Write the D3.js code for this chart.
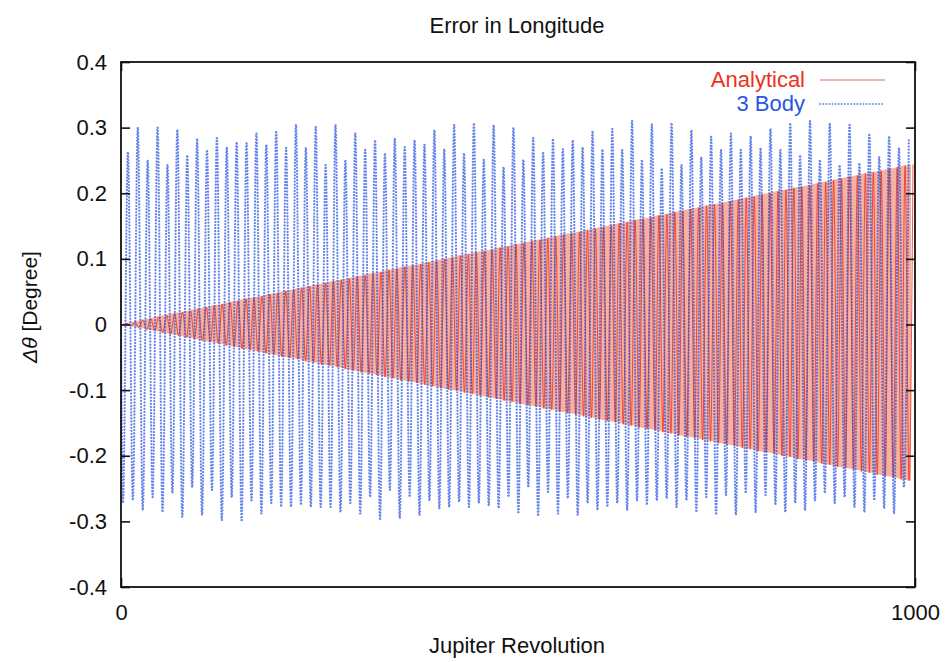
<!DOCTYPE html>
<html>
<head>
<meta charset="utf-8">
<script src="https://cdn.jsdelivr.net/npm/d3@7"></script>
<style>
  body { margin: 0; background: #fff; }
  text { font-family: "Liberation Sans", Arial, Helvetica, sans-serif; }
</style>
</head>
<body>
<svg id="chart" width="947" height="662"></svg>
<script>
// Longitude error over 1000 Jupiter revolutions
const xTicks = [0, 1000];
const yTicks = [-0.4, -0.3, -0.2, -0.1, 0, 0.1, 0.2, 0.3, 0.4];
const seriesNames = ["Analytical", "3 Body"];

// 3-body integration: one maximum and one minimum per oscillation cycle
const bodyPeriod = 12.45; // revolutions per cycle
const bodyHigh = [
  0.263,0.300,0.250,0.300,0.243,0.297,0.258,0.283,0.266,0.284,
  0.270,0.278,0.276,0.291,0.274,0.295,0.269,0.304,0.269,0.301,
  0.243,0.304,0.251,0.291,0.266,0.281,0.261,0.283,0.270,0.281,
  0.274,0.296,0.267,0.304,0.261,0.307,0.251,0.304,0.240,0.300,
  0.251,0.284,0.263,0.283,0.267,0.281,0.270,0.295,0.267,0.298,
  0.266,0.310,0.251,0.305,0.238,0.307,0.243,0.296,0.255,0.286,
  0.266,0.291,0.266,0.287,0.269,0.298,0.266,0.307,0.258,0.310,
  0.251,0.307,0.243,0.304,0.246,0.291,0.255,0.287,0.269,0.284
];
const bodyLow = [
  -0.272,-0.268,-0.283,-0.263,-0.286,-0.257,-0.293,-0.248,-0.290,-0.252,
  -0.298,-0.263,-0.298,-0.268,-0.288,-0.272,-0.278,-0.278,-0.275,-0.278,
  -0.278,-0.278,-0.286,-0.272,-0.288,-0.263,-0.298,-0.252,-0.295,-0.263,
  -0.290,-0.268,-0.280,-0.278,-0.270,-0.278,-0.272,-0.275,-0.280,-0.263,
  -0.286,-0.248,-0.292,-0.255,-0.288,-0.265,-0.290,-0.272,-0.283,-0.278,
  -0.272,-0.283,-0.268,-0.275,-0.268,-0.265,-0.278,-0.268,-0.286,-0.263,
  -0.290,-0.260,-0.290,-0.257,-0.286,-0.260,-0.275,-0.286,-0.272,-0.283,
  -0.268,-0.257,-0.272,-0.263,-0.278,-0.286,-0.268,-0.280,-0.288,-0.248
];

// Analytical solution: one maximum and one minimum per cycle
const analyticalPeriod = 10; // revolutions per cycle
const analyticalHigh = [
  0.002,0.004,0.007,0.009,0.012,0.014,0.017,0.019,0.021,0.024,
  0.026,0.029,0.031,0.034,0.036,0.039,0.041,0.043,0.046,0.048,
  0.051,0.053,0.056,0.058,0.061,0.063,0.066,0.068,0.070,0.073,
  0.075,0.078,0.080,0.083,0.085,0.088,0.090,0.092,0.095,0.097,
  0.100,0.102,0.105,0.107,0.110,0.112,0.114,0.117,0.119,0.122,
  0.124,0.127,0.129,0.132,0.134,0.137,0.139,0.141,0.144,0.146,
  0.149,0.151,0.154,0.156,0.159,0.161,0.163,0.166,0.168,0.171,
  0.173,0.176,0.178,0.181,0.183,0.185,0.188,0.190,0.193,0.195,
  0.198,0.200,0.203,0.205,0.208,0.210,0.212,0.215,0.217,0.220,
  0.222,0.225,0.227,0.230,0.232,0.234,0.237,0.239,0.242,0.244
];
const analyticalLow = [
  -0.001,-0.003,-0.005,-0.008,-0.010,-0.013,-0.015,-0.017,-0.020,-0.022,
  -0.025,-0.027,-0.029,-0.032,-0.034,-0.037,-0.039,-0.041,-0.044,-0.046,
  -0.049,-0.051,-0.053,-0.056,-0.058,-0.061,-0.063,-0.065,-0.068,-0.070,
  -0.073,-0.075,-0.077,-0.080,-0.082,-0.085,-0.087,-0.089,-0.092,-0.094,
  -0.097,-0.099,-0.101,-0.104,-0.106,-0.109,-0.111,-0.113,-0.116,-0.118,
  -0.121,-0.123,-0.125,-0.128,-0.130,-0.133,-0.135,-0.137,-0.140,-0.142,
  -0.145,-0.147,-0.149,-0.152,-0.154,-0.157,-0.159,-0.161,-0.164,-0.166,
  -0.169,-0.171,-0.173,-0.176,-0.178,-0.181,-0.183,-0.185,-0.188,-0.190,
  -0.193,-0.195,-0.197,-0.200,-0.202,-0.205,-0.207,-0.209,-0.212,-0.214,
  -0.217,-0.219,-0.221,-0.224,-0.226,-0.229,-0.231,-0.233,-0.236,-0.238
];

const svg = d3.select("#chart");
const plot = { left: 121, right: 915, top: 62, bottom: 587 };

const x = d3.scaleLinear().domain([0, 1000]).range([plot.left, plot.right]);
const y = d3.scaleLinear().domain([-0.4, 0.4]).range([plot.bottom, plot.top]);

const colors = { analytical: "#ee3020", analyticalFill: "#f6a893", body: "#2a55e0" };
const bodyDash = "0.01 3.1";

svg.append("defs").append("clipPath").attr("id", "plot-clip")
  .append("rect")
  .attr("x", plot.left).attr("y", plot.top)
  .attr("width", plot.right - plot.left).attr("height", plot.bottom - plot.top);

// Turn per-cycle extrema into an alternating min/max sequence
function extremaSequence(lows, highs, period, lowPhase, highPhase) {
  const pts = [[0, 0]];
  lows.forEach((v, i) => {
    pts.push([period * (i + lowPhase), v]);
    pts.push([period * (i + highPhase), highs[i]]);
  });
  return pts;
}

const analyticalPts = extremaSequence(analyticalLow, analyticalHigh, analyticalPeriod, 0.25, 0.75);
const bodyPts = extremaSequence(bodyLow, bodyHigh, bodyPeriod, 0.2, 0.7);

const line = d3.line()
  .x(d => x(d[0]))
  .y(d => y(d[1]))
  .curve(d3.curveMonotoneX);

const data = svg.append("g").attr("clip-path", "url(#plot-clip)");

// Envelope covered by the fast analytical oscillation
const band = [{ r: 0, lo: 0, hi: 0 }].concat(
  analyticalHigh.map((h, i) => ({ r: analyticalPeriod * (i + 0.5), lo: analyticalLow[i], hi: h }))
);
data.append("path")
  .datum(band)
  .attr("d", d3.area().x(d => x(d.r)).y0(d => y(d.lo)).y1(d => y(d.hi)))
  .attr("fill", colors.analyticalFill)
  .attr("opacity", 0.9);

data.append("path")
  .datum(analyticalPts)
  .attr("d", line)
  .attr("fill", "none")
  .attr("stroke", colors.analytical)
  .attr("stroke-width", 0.9)
  .attr("stroke-opacity", 0.9);

data.append("path")
  .datum(bodyPts)
  .attr("d", line)
  .attr("fill", "none")
  .attr("stroke", colors.body)
  .attr("stroke-width", 2.3)
  .attr("stroke-linecap", "round")
  .attr("stroke-dasharray", bodyDash)
  .attr("stroke-opacity", 0.72);

// Axes with inward ticks, mirrored on top and right
const fmt = d => (d === 0 ? "0" : d.toFixed(1));

const axisStyle = g => {
  g.select(".domain").remove();
  g.selectAll(".tick line").attr("stroke", "#111").attr("stroke-width", 1.6);
  g.selectAll(".tick text").attr("fill", "#111").style("font-size", "22px")
    .style("font-family", "'Liberation Sans', Arial, sans-serif");
};

svg.append("g")
  .attr("transform", `translate(${plot.left},0)`)
  .call(d3.axisLeft(y).tickValues(yTicks).tickSize(-9).tickPadding(14).tickFormat(fmt))
  .call(axisStyle);

svg.append("g")
  .attr("transform", `translate(${plot.right},0)`)
  .call(d3.axisRight(y).tickValues(yTicks).tickSize(-9).tickFormat(""))
  .call(axisStyle);

svg.append("g")
  .attr("transform", `translate(0,${plot.bottom})`)
  .call(d3.axisBottom(x).tickValues(xTicks).tickSize(-9).tickPadding(17).tickFormat(d3.format("d")))
  .call(axisStyle);

svg.append("g")
  .attr("transform", `translate(0,${plot.top})`)
  .call(d3.axisTop(x).tickValues(xTicks).tickSize(-9).tickFormat(""))
  .call(axisStyle);

svg.append("rect")
  .attr("x", plot.left).attr("y", plot.top)
  .attr("width", plot.right - plot.left).attr("height", plot.bottom - plot.top)
  .attr("fill", "none").attr("stroke", "#111").attr("stroke-width", 1.8);

// Titles
svg.append("text")
  .attr("x", 517).attr("y", 33)
  .attr("text-anchor", "middle")
  .style("font-size", "22px").attr("fill", "#111")
  .text("Error in Longitude");

svg.append("text")
  .attr("x", 517).attr("y", 653)
  .attr("text-anchor", "middle")
  .style("font-size", "22px").attr("fill", "#111")
  .text("Jupiter Revolution");

const yLabel = svg.append("text")
  .attr("transform", "translate(37,307) rotate(-90)")
  .attr("text-anchor", "middle")
  .style("font-size", "21px").attr("fill", "#111");
yLabel.append("tspan").style("font-style", "italic").text("Δθ");
yLabel.append("tspan").text(" [Degree]");

// Legend
const legend = svg.append("g");
const legendRows = [
  { name: seriesNames[0], y: 80, color: colors.analytical, dash: null, width: 1.2, opacity: 0.75 },
  { name: seriesNames[1], y: 104, color: colors.body, dash: bodyDash, width: 2, opacity: 0.65 }
];
legendRows.forEach(r => {
  legend.append("text")
    .attr("x", 805).attr("y", r.y + 7)
    .attr("text-anchor", "end")
    .style("font-size", "22px")
    .attr("fill", r.color)
    .text(r.name);
  legend.append("line")
    .attr("x1", 820).attr("x2", 885).attr("y1", r.y).attr("y2", r.y)
    .attr("stroke", r.color)
    .attr("stroke-width", r.width)
    .attr("stroke-opacity", r.opacity)
    .attr("stroke-linecap", r.dash ? "round" : "butt")
    .attr("stroke-dasharray", r.dash);
});
</script>
</body>
</html>
